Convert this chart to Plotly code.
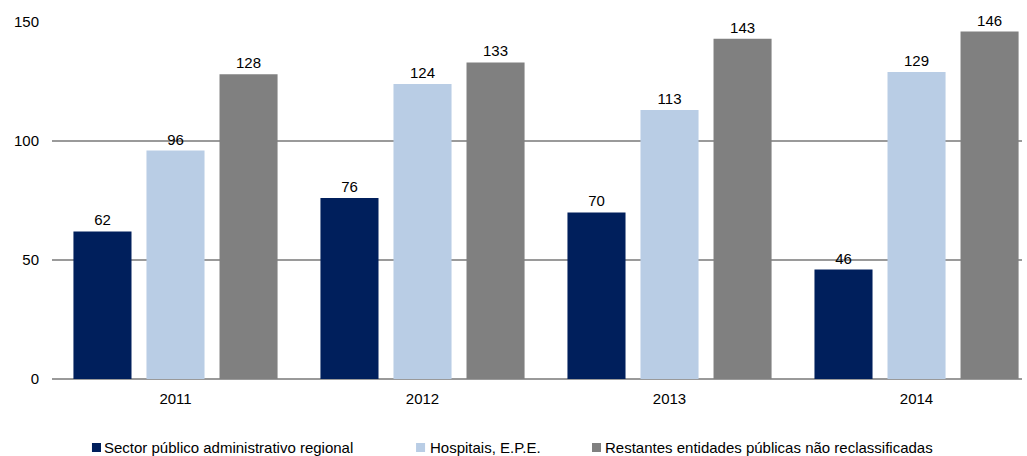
import plotly.graph_objects as go

years = ["2011", "2012", "2013", "2014"]
sector_regional = [62, 76, 70, 46]
hospitais = [96, 124, 113, 129]
restantes = [128, 133, 143, 146]
series_names = [
    "Sector público administrativo regional",
    "Hospitais, E.P.E.",
    "Restantes entidades públicas não reclassificadas",
]
colors = ["#001F5C", "#B9CDE5", "#808080"]

# legend layout (paper coords): square left edges and text left edges
legend_sq_x = [0.0412, 0.3753, 0.5567]
legend_tx_x = [0.0515, 0.3876, 0.5680]

FONT = "Liberation Sans, Arial"

fig = go.Figure()
for name, vals, col in zip(series_names, [sector_regional, hospitais, restantes], colors):
    fig.add_trace(go.Bar(
        x=years, y=vals, name=name, marker=dict(color=col, line=dict(width=0)),
        text=[str(v) for v in vals], textposition="outside", cliponaxis=False,
        textfont=dict(family=FONT, size=15, color="#000000"),
        showlegend=False,
    ))

for name, col, sx, tx in zip(series_names, colors, legend_sq_x, legend_tx_x):
    fig.add_shape(type="rect", xref="paper", yref="paper",
                  x0=sx, x1=sx + 0.0093, y0=-0.2045, y1=-0.1793,
                  fillcolor=col, line=dict(width=0))
    fig.add_annotation(text=name, xref="paper", yref="paper", x=tx, y=-0.1905,
                       xanchor="left", yanchor="middle", showarrow=False,
                       font=dict(family=FONT, size=15, color="#000000"))

fig.update_layout(
    width=1027, height=456,
    margin=dict(l=52, r=5, t=22, b=77, autoexpand=False),
    paper_bgcolor="white", plot_bgcolor="white",
    barmode="group", bargap=0.113, bargroupgap=0.205,
    font=dict(family=FONT, size=15, color="#000000"),
    showlegend=False,
    xaxis=dict(
        range=[-0.5, 3.427], showgrid=False, showline=False, ticks="",
        ticklabelstandoff=9, tickfont=dict(size=15), automargin=False,
    ),
    yaxis=dict(
        range=[0, 150], tickvals=[0, 50, 100, 150], showgrid=True,
        gridcolor="#9A9A9A", gridwidth=1.5, zeroline=True, zerolinecolor="#9A9A9A",
        zerolinewidth=1.5, showline=False, ticks="", ticklabelstandoff=12,
        tickfont=dict(size=15), automargin=False,
    ),
)

fig.write_html("out.html", config={"displayModeBar": False},
               post_script="document.body.style.margin='0px';")
